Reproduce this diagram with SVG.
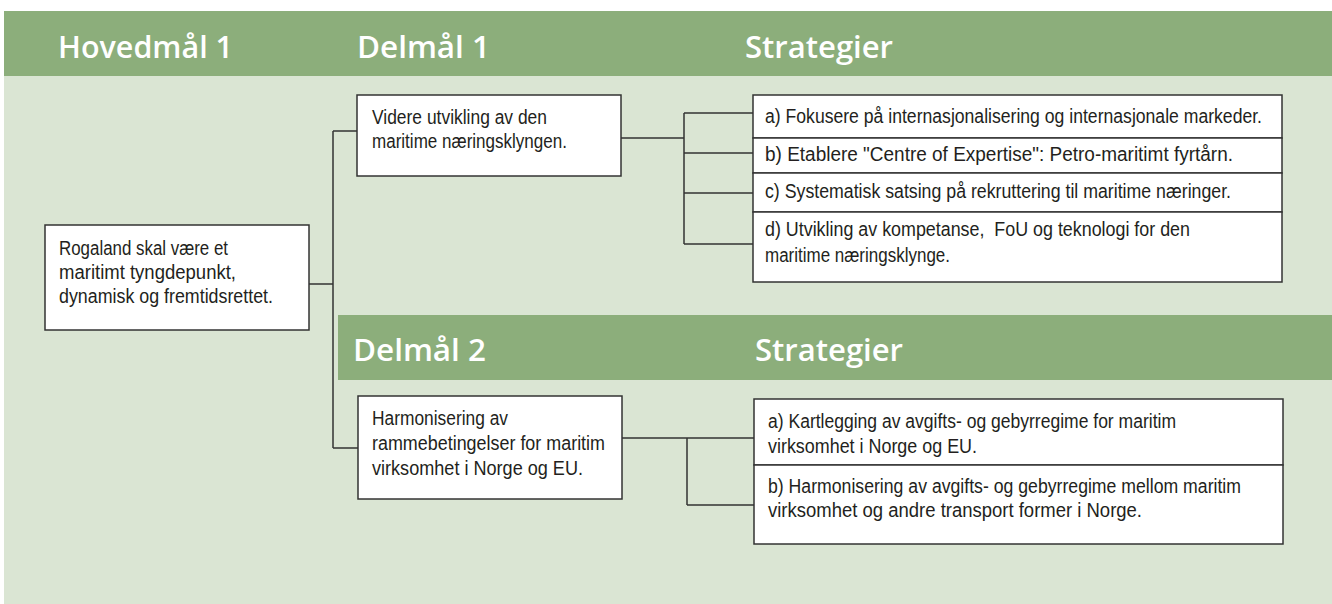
<svg xmlns="http://www.w3.org/2000/svg" width="1332" height="604" viewBox="0 0 1332 604">
<style>
.band{fill:#8cae7b}
.hdr{font-family:"Open Sans","Liberation Sans",Arial,sans-serif;font-weight:600;font-size:31px;fill:#ffffff}
.box{fill:#ffffff;stroke:#333333;stroke-width:1.5}
.t{font-family:"Liberation Sans",Arial,sans-serif;font-size:20px;fill:#231f20}
.con{fill:none;stroke:#333333;stroke-width:1.5}
</style>
<rect x="0" y="0" width="1332" height="604" fill="#ffffff"/>
<rect x="4" y="76" width="1328" height="528" fill="#dae5d3"/>
<g id="header1">
<rect class="band" x="4" y="11" width="1328" height="65"/>
<text class="hdr" x="58" y="58" textLength="175" lengthAdjust="spacingAndGlyphs">Hovedmål 1</text>
<text class="hdr" x="357" y="58" textLength="133" lengthAdjust="spacingAndGlyphs">Delmål 1</text>
<text class="hdr" x="745" y="58" textLength="148" lengthAdjust="spacingAndGlyphs">Strategier</text>
</g>
<g id="header2">
<rect class="band" x="338" y="315" width="994" height="65"/>
<text class="hdr" x="353" y="361" textLength="133" lengthAdjust="spacingAndGlyphs">Delmål 2</text>
<text class="hdr" x="755" y="361" textLength="148" lengthAdjust="spacingAndGlyphs">Strategier</text>
</g>
<g id="connectors">
<path class="con" d="M309 284H333M333 131V448M333 131H357M333 448H358"/>
<path class="con" d="M621 138H684M684 113V244M684 113H753M684 153H753M684 193H753M684 244H753"/>
<path class="con" d="M622 438H687M687 438V505M687 438H754M687 505H754"/>
</g>
<g id="hovedmaal">
<rect class="box" x="45" y="225" width="264" height="105"/>
<text class="t" x="59" y="255" textLength="169" lengthAdjust="spacingAndGlyphs">Rogaland skal være et</text>
<text class="t" x="59" y="279" textLength="177" lengthAdjust="spacingAndGlyphs">maritimt tyngdepunkt,</text>
<text class="t" x="59" y="303" textLength="214" lengthAdjust="spacingAndGlyphs">dynamisk og fremtidsrettet.</text>
</g>
<g id="delmaal1">
<rect class="box" x="357" y="95" width="264" height="81"/>
<text class="t" x="372" y="124" textLength="175" lengthAdjust="spacingAndGlyphs">Videre utvikling av den</text>
<text class="t" x="372" y="148" textLength="195" lengthAdjust="spacingAndGlyphs">maritime næringsklyngen.</text>
</g>
<g id="delmaal2">
<rect class="box" x="358" y="396" width="264" height="103"/>
<text class="t" x="372" y="425" textLength="136" lengthAdjust="spacingAndGlyphs">Harmonisering av</text>
<text class="t" x="372" y="450" textLength="233" lengthAdjust="spacingAndGlyphs">rammebetingelser for maritim</text>
<text class="t" x="372" y="475" textLength="211" lengthAdjust="spacingAndGlyphs">virksomhet i Norge og EU.</text>
</g>
<g id="strategi1a">
<rect class="box" x="753" y="95" width="529" height="43"/>
<text class="t" x="765" y="123" textLength="497" lengthAdjust="spacingAndGlyphs">a) Fokusere på internasjonalisering og internasjonale markeder.</text>
</g>
<g id="strategi1b">
<rect class="box" x="753" y="138" width="529" height="35"/>
<text class="t" x="765" y="161" textLength="468" lengthAdjust="spacingAndGlyphs">b) Etablere "Centre of Expertise": Petro-maritimt fyrtårn.</text>
</g>
<g id="strategi1c">
<rect class="box" x="753" y="173" width="529" height="39"/>
<text class="t" x="765" y="198" textLength="466" lengthAdjust="spacingAndGlyphs">c) Systematisk satsing på rekruttering til maritime næringer.</text>
</g>
<g id="strategi1d">
<rect class="box" x="753" y="212" width="529" height="70"/>
<text class="t" x="765" y="236" textLength="425" lengthAdjust="spacingAndGlyphs" xml:space="preserve">d) Utvikling av kompetanse,  FoU og teknologi for den</text>
<text class="t" x="765" y="262" textLength="185" lengthAdjust="spacingAndGlyphs">maritime næringsklynge.</text>
</g>
<g id="strategi2a">
<rect class="box" x="754" y="399" width="529" height="66"/>
<text class="t" x="768" y="428" textLength="408" lengthAdjust="spacingAndGlyphs">a) Kartlegging av avgifts- og gebyrregime for maritim</text>
<text class="t" x="768" y="453" textLength="209" lengthAdjust="spacingAndGlyphs">virksomhet i Norge og EU.</text>
</g>
<g id="strategi2b">
<rect class="box" x="754" y="465" width="529" height="79"/>
<text class="t" x="768" y="493" textLength="473" lengthAdjust="spacingAndGlyphs">b) Harmonisering av avgifts- og gebyrregime mellom maritim</text>
<text class="t" x="768" y="517" textLength="374" lengthAdjust="spacingAndGlyphs">virksomhet og andre transport former i Norge.</text>
</g>
</svg>
